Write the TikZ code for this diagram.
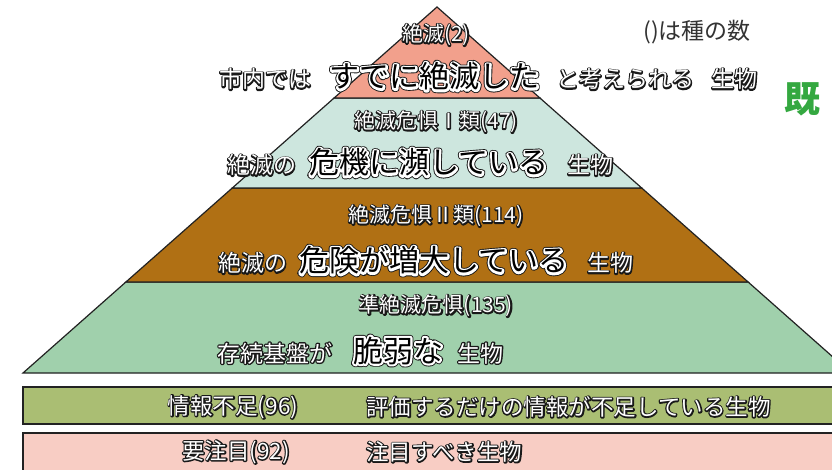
\documentclass[tikz,border=0pt]{standalone}
\usepackage{fontspec}
\setmainfont{Noto Sans CJK JP}
\definecolor{ctop}{RGB}{242,160,140}
\definecolor{cteal}{RGB}{205,230,222}
\definecolor{cbrown}{RGB}{176,112,20}
\definecolor{cgreen}{RGB}{160,208,172}
\definecolor{colive}{RGB}{170,190,115}
\definecolor{cpink}{RGB}{248,205,196}
\definecolor{cline}{RGB}{34,34,34}
\definecolor{ckgreen}{RGB}{52,168,64}
\newcommand{\trs}[1]{\special{pdf:literal direct #1}}
\newcommand{\smtxt}[1]{\makebox[0pt][l]{\textcolor{cline}{\trs{0.1 0.1 0.1 RG 1 Tr 2.6 w 1 j}#1\trs{0 Tr}}}\textcolor{white}{#1}}
\newcommand{\bgtxt}[1]{\makebox[0pt][l]{\textcolor{cline}{\trs{0.1 0.1 0.1 RG 1 Tr 6.0 w 1 j}#1\trs{0 Tr}}}\makebox[0pt][l]{\textcolor{white}{\trs{1 1 1 RG 1 Tr 4.2 w 1 j}#1\trs{0 Tr}}}\textcolor{black}{#1}}
\begin{document}
\begin{tikzpicture}[x=1pt,y=-1pt,
  layer/.style={draw=cline,line width=1.2pt,line join=miter},
  lbl/.style={inner sep=0,font=\fontsize{21}{21}\selectfont},
  side/.style={inner sep=0,anchor=base west,font=\fontsize{23}{23}\selectfont},
  bigt/.style={inner sep=0,anchor=base west,font=\fontsize{30}{30}\selectfont},
  boxt/.style={inner sep=0,font=\fontsize{22.5}{22.5}\selectfont}]
\useasboundingbox (0,0) rectangle (832,470);
\clip (0,0) rectangle (832,470);
\fill[white] (0,0) rectangle (832,470);
% pyramid layers
\filldraw[layer,fill=cgreen] (125.9,282) -- (748.1,282) -- (851,373) -- (23,373) -- cycle;
\filldraw[layer,fill=cbrown] (232.3,188) -- (641.7,188) -- (748.1,282) -- (125.9,282) -- cycle;
\filldraw[layer,fill=cteal] (334.1,98) -- (539.9,98) -- (641.7,188) -- (232.3,188) -- cycle;
\filldraw[layer,fill=ctop] (437,7) -- (539.9,98) -- (334.1,98) -- cycle;
% boxes
\filldraw[layer,fill=colive] (23,387) rectangle (840,424);
\filldraw[layer,fill=cpink] (23,433) rectangle (840,480);
% top layer
\node[lbl] (l1) at (436,35) {\smtxt{絶滅(2)}};
\node[side] (a1) at (219,88) {\smtxt{市内では}};
\node[bigt] (b1) at (329,88) {\bgtxt{すでに絶滅した}};
\node[side] (c1) at (556,88) {\smtxt{と考えられる}};
\node[side] (d1) at (711,88) {\smtxt{生物}};
% layer 2
\node[lbl] (l2) at (436,122) {\smtxt{絶滅危惧Ⅰ類(47)}};
\node[side] (a2) at (227,174) {\smtxt{絶滅の}};
\node[bigt] (b2) at (309,174) {\bgtxt{危機に瀕している}};
\node[side] (d2) at (567,174) {\smtxt{生物}};
% layer 3
\node[lbl] (l3) at (436,216) {\smtxt{絶滅危惧Ⅱ類(114)}};
\node[side] (a3) at (218,272) {\smtxt{絶滅の}};
\node[bigt] (b3) at (299,272) {\bgtxt{危険が増大している}};
\node[side] (d3) at (587,272) {\smtxt{生物}};
% layer 4
\node[lbl] (l4) at (436,306) {\smtxt{準絶滅危惧(135)}};
\node[side] (a4) at (217,362) {\smtxt{存続基盤が}};
\node[bigt] (b4) at (353,362) {\bgtxt{脆弱な}};
\node[side] (d4) at (457,362) {\smtxt{生物}};
% boxes text
\node[boxt] (e1) at (233,407) {\smtxt{情報不足(96)}};
\node[boxt,anchor=west] (f1) at (366,407) {\smtxt{評価するだけの情報が不足している生物}};
\node[boxt] (e2) at (236,452) {\smtxt{要注目(92)}};
\node[boxt,anchor=west] (f2) at (366,452) {\smtxt{注目すべき生物}};
% notes
\node[inner sep=0,text=black!80,font=\fontsize{23}{23}\selectfont] (note) at (697,32) {()は種の数};
\node[inner sep=0,text=ckgreen,font=\fontsize{36}{36}\selectfont\bfseries] (kid) at (802,99) {既};
\end{tikzpicture}
\end{document}
